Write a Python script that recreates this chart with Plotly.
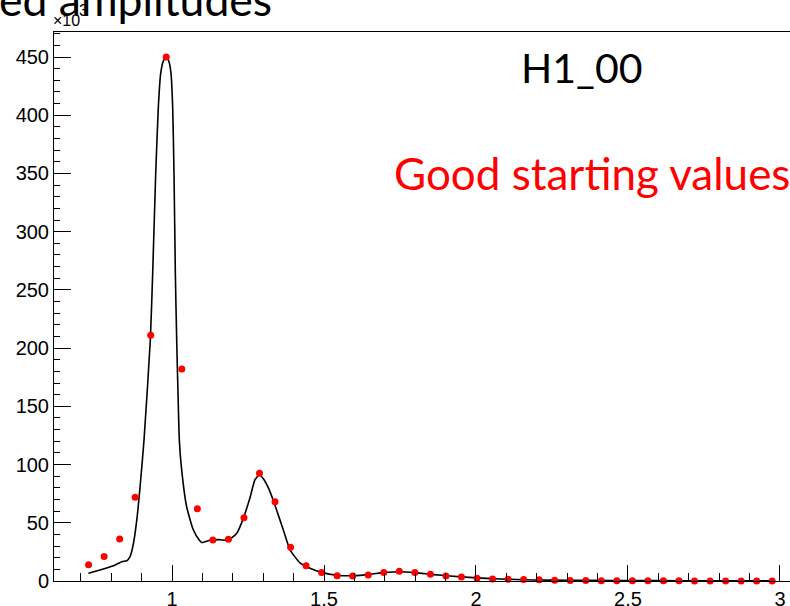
import plotly.graph_objects as go

# Histogram (bin centres of 45 bins from 0.7 to 3.0), values in units of 10^3
bin_lo = 0.7
bin_hi = 3.0
n_bins = 45
bin_values = [14, 21, 36, 72, 211, 450, 182, 62, 35.2, 35.8,
              54.4, 92.5, 68.1, 28.9, 13.2, 7.4, 4.6, 4.3, 5.2, 7.2,
              8.3, 7.4, 5.7, 4.3, 3.4, 2.3, 1.7, 1.4, 1.3, 1.0,
              0.7, 0.5, 0.4, 0.3, 0.25, 0.2, 0.2, 0.15, 0.15, 0.1,
              0.1, 0.1, 0.1, 0.1, 0.1]

# Fit curve (x, value in 10^3)
curve_x = [0.725, 0.763, 0.807, 0.835, 0.851, 0.862, 0.873, 0.884, 0.895, 0.9079,
           0.9287, 0.9364, 0.9464, 0.955, 0.9628, 0.972, 0.9825, 0.990, 0.9967, 1.0022,
           1.0066, 1.011, 1.0154, 1.0208, 1.0241, 1.030, 1.048, 1.070, 1.090, 1.098,
           1.125, 1.155, 1.185, 1.213, 1.235, 1.257, 1.273, 1.287, 1.300, 1.322,
           1.344, 1.366, 1.388, 1.421, 1.454, 1.492, 1.542, 1.596, 1.651, 1.695,
           1.75, 1.80, 1.86, 1.914, 1.991, 2.079, 2.188, 2.30, 2.45, 2.60,
           2.75, 2.975]
curve_y = [6.6, 9.4, 13, 16.6, 17.4, 21, 32, 52, 81, 121,
           207, 264, 350, 407, 436, 447, 450, 446, 436, 407,
           350, 264, 207, 150, 121, 100, 64, 44, 35, 33,
           35, 35.5, 35, 41, 54, 72, 87, 91, 88, 77,
           61, 44, 27, 15.5, 11, 7.4, 5, 4.6, 5.7, 7.2,
           8, 7.2, 5.5, 4.3, 2.9, 1.7, 0.9, 0.6, 0.4, 0.3,
           0.2, 0.15]

title_text = "ed amplitudes"
label_text = "H1_00"
note_text = "Good starting values"
y_tick_vals = [0, 50, 100, 150, 200, 250, 300, 350, 400, 450]

width = (bin_hi - bin_lo) / n_bins
bin_x = [bin_lo + (i + 0.5) * width for i in range(n_bins)]

fig = go.Figure()
fig.add_trace(go.Scatter(x=curve_x, y=curve_y, mode="lines",
                         line=dict(color="black", width=1.6, shape="spline", smoothing=0.5),
                         hoverinfo="skip"))
fig.add_trace(go.Scatter(x=bin_x, y=bin_values, mode="markers",
                         marker=dict(color="#ff0000", size=7, line=dict(width=0)),
                         cliponaxis=False))

W, H = 790, 606
L, R, T, B = 54, 0, 32, 25
pw = W - L - R
ph = H - T - B

def px(xp):
    return (xp - L) / pw

def py(yp):
    return (H - B - yp) / ph

fig.update_layout(
    width=W, height=H,
    margin=dict(l=L, r=R, t=T, b=B, pad=0, autoexpand=False),
    paper_bgcolor="white", plot_bgcolor="white",
    showlegend=False,
    xaxis=dict(range=[0.6118, 3.033], showgrid=False, zeroline=False, automargin=False,
               showline=True, linecolor="black", linewidth=1, mirror=True,
               ticks="inside", ticklen=16, tickwidth=1, tickcolor="black",
               tick0=0, dtick=0.5,
               minor=dict(ticks="inside", ticklen=8, tickwidth=1, tickcolor="black", dtick=0.1),
               tickfont=dict(family="Liberation Sans, Arial", size=20, color="black")),
    yaxis=dict(range=[0, 471.5], showgrid=False, zeroline=False, automargin=False,
               showline=True, linecolor="black", linewidth=1, mirror=False,
               ticks="inside", ticklen=17, tickwidth=1, tickcolor="black",
               tickvals=y_tick_vals,
               minor=dict(ticks="inside", ticklen=6, tickwidth=1, tickcolor="black", dtick=10, tick0=0),
               tickfont=dict(family="Liberation Sans, Arial", size=20, color="black")),
    annotations=[
        dict(text=title_text, xref="paper", yref="paper", x=px(-3), y=py(-2),
             xanchor="left", yanchor="middle", showarrow=False,
             font=dict(family="Lato", size=44.5, color="black")),
        dict(text="×10", xref="paper", yref="paper", x=px(51), y=py(21),
             xanchor="left", yanchor="middle", showarrow=False,
             font=dict(family="Liberation Sans, Arial", size=16, color="black")),
        dict(text="3", xref="paper", yref="paper", x=px(77), y=py(11),
             xanchor="left", yanchor="middle", showarrow=False,
             font=dict(family="Liberation Sans, Arial", size=16, color="black")),
        dict(text=label_text, xref="paper", yref="paper", x=px(581), y=py(67),
             xanchor="center", yanchor="middle", showarrow=False,
             font=dict(family="Lato", size=41, color="black")),
        dict(text=note_text, xref="paper", yref="paper", x=px(392), y=py(173),
             xanchor="left", yanchor="middle", showarrow=False,
             font=dict(family="Lato", size=44, color="#ff0000")),
    ],
)

fig.write_html("out.html")
